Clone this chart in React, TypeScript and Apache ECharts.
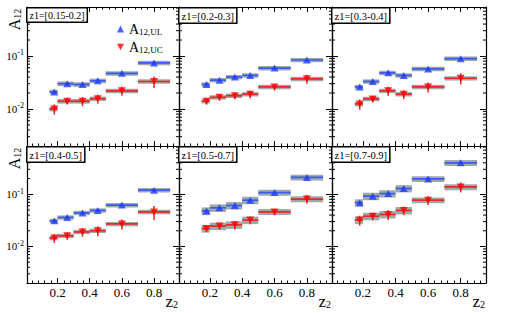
import React, { useEffect, useRef } from 'react';
import * as echarts from 'echarts';

const SERIF = '"Liberation Serif", "DejaVu Serif", serif';

// ---- data ----
const z1Labels = ['z1=[0.15-0.2]', 'z1=[0.2-0.3]', 'z1=[0.3-0.4]', 'z1=[0.4-0.5]', 'z1=[0.5-0.7]', 'z1=[0.7-0.9]'];
const z2Center = [0.18, 0.26, 0.355, 0.45, 0.6, 0.8];
const z2Low = [0.15, 0.2, 0.3, 0.4, 0.5, 0.7];
const z2High = [0.2, 0.3, 0.4, 0.5, 0.7, 0.9];
const xTickLabels = ['0.2', '0.4', '0.6', '0.8'];

// A12,UL values per z1 bin
const ulP1 = [0.021, 0.030, 0.029, 0.034, 0.047, 0.074];
const ulP2 = [0.029, 0.035, 0.040, 0.043, 0.059, 0.084];
const ulP3 = [0.026, 0.033, 0.048, 0.043, 0.057, 0.089];
const ulP4 = [0.031, 0.036, 0.044, 0.049, 0.062, 0.12];
const ulP5 = [0.048, 0.055, 0.061, 0.077, 0.108, 0.21];
const ulP6 = [0.069, 0.092, 0.103, 0.129, 0.197, 0.40];
// A12,UC values per z1 bin
const ucP1 = [0.010, 0.014, 0.014, 0.0156, 0.022, 0.033];
const ucP2 = [0.014, 0.0166, 0.0178, 0.019, 0.026, 0.037];
const ucP3 = [0.0124, 0.0155, 0.022, 0.019, 0.026, 0.038];
const ucP4 = [0.0145, 0.016, 0.019, 0.020, 0.027, 0.046];
const ucP5 = [0.022, 0.0246, 0.026, 0.032, 0.046, 0.081];
const ucP6 = [0.032, 0.038, 0.041, 0.049, 0.077, 0.138];
// statistical errors
const ulErrP1 = [0.0014, 0.0019, 0.0019, 0.0022, 0.0031, 0.0049];
const ulErrP2 = [0.0017, 0.0021, 0.0024, 0.0026, 0.0036, 0.0050];
const ulErrP3 = [0.0018, 0.0022, 0.0030, 0.0028, 0.0038, 0.0060];
const ulErrP4 = [0.0020, 0.0023, 0.0028, 0.0032, 0.0040, 0.0078];
const ulErrP5 = [0.0030, 0.0034, 0.0038, 0.0048, 0.0068, 0.0130];
const ulErrP6 = [0.0044, 0.0058, 0.0066, 0.0082, 0.0125, 0.0250];
const ucErrP1 = [0.0022, 0.0019, 0.0027, 0.0030, 0.0042, 0.0080];
const ucErrP2 = [0.0019, 0.0023, 0.0025, 0.0031, 0.0036, 0.0070];
const ucErrP3 = [0.0027, 0.0022, 0.0042, 0.0036, 0.0056, 0.0092];
const ucErrP4 = [0.0028, 0.0026, 0.0036, 0.0043, 0.0058, 0.0138];
const ucErrP5 = [0.0031, 0.0034, 0.0049, 0.0052, 0.0064, 0.0154];
const ucErrP6 = [0.0069, 0.0062, 0.0089, 0.0093, 0.0146, 0.0298];
// systematic errors (gray boxes)
const ulSysP1 = [0.0021, 0.0030, 0.0029, 0.0033, 0.0046, 0.0072];
const ulSysP2 = [0.0028, 0.0034, 0.0038, 0.0041, 0.0056, 0.0080];
const ulSysP3 = [0.0025, 0.0032, 0.0046, 0.0041, 0.0054, 0.0085];
const ulSysP4 = [0.0030, 0.0034, 0.0042, 0.0047, 0.0059, 0.0114];
const ulSysP5 = [0.0080, 0.0090, 0.0100, 0.0125, 0.0140, 0.0270];
const ulSysP6 = [0.0110, 0.0150, 0.0165, 0.0205, 0.0250, 0.0510];
const ucSysP1 = [0.0010, 0.0014, 0.0014, 0.0015, 0.0021, 0.0032];
const ucSysP2 = [0.0013, 0.0016, 0.0017, 0.0018, 0.0025, 0.0035];
const ucSysP3 = [0.0012, 0.0015, 0.0021, 0.0018, 0.0025, 0.0036];
const ucSysP4 = [0.0014, 0.0015, 0.0018, 0.0019, 0.0026, 0.0044];
const ucSysP5 = [0.0036, 0.0040, 0.0043, 0.0052, 0.0060, 0.0105];
const ucSysP6 = [0.0052, 0.0062, 0.0066, 0.0079, 0.0100, 0.0180];
// log-axis minor tick positions
const logMinor = [0.003, 0.004, 0.005, 0.006, 0.007, 0.008, 0.009, 0.02, 0.03, 0.04, 0.05, 0.06, 0.07, 0.08, 0.09, 0.2, 0.3, 0.4, 0.5, 0.6, 0.7, 0.8];

const ulAll = [ulP1, ulP2, ulP3, ulP4, ulP5, ulP6];
const ucAll = [ucP1, ucP2, ucP3, ucP4, ucP5, ucP6];
const ulErrAll = [ulErrP1, ulErrP2, ulErrP3, ulErrP4, ulErrP5, ulErrP6];
const ucErrAll = [ucErrP1, ucErrP2, ucErrP3, ucErrP4, ucErrP5, ucErrP6];
const ulSysAll = [ulSysP1, ulSysP2, ulSysP3, ulSysP4, ulSysP5, ulSysP6];
const ucSysAll = [ucSysP1, ucSysP2, ucSysP3, ucSysP4, ucSysP5, ucSysP6];

// ---- layout ----
const gridLeft = [27, 179, 332];
const gridWidth = [152, 153, 154];
const gridTop = [7, 146];
const gridHeight = [139, 137];
const X_MIN = 0.01;
const X_MAX = 0.955;
const Y_MIN = 0.002;
const Y_MAX = 0.84;

const BLUE_M = '#1f3cff';
const BLUE_L = '#3a5cf2';
const RED_M = '#ff0000';
const RED_L = '#e42a24';
const GRAY = 'rgba(128,140,138,0.75)';
const DOWN_TRI = 'path://M0,0L10,0L5,9Z';

function binRender(color: string) {
  return (params: any, api: any) => {
    const lo = api.value(0), hi = api.value(1), xc = api.value(2), y = api.value(3), e = api.value(4);
    const a = api.coord([lo, y]);
    const b = api.coord([hi, y]);
    const t = api.coord([xc, y + e]);
    const d = api.coord([xc, y - e]);
    return {
      type: 'group',
      children: [
        { type: 'line', shape: { x1: a[0], y1: a[1], x2: b[0], y2: b[1] }, style: { stroke: color, lineWidth: 1.7 } },
        { type: 'line', shape: { x1: t[0], y1: t[1], x2: d[0], y2: d[1] }, style: { stroke: color, lineWidth: 1.5 } },
      ],
    };
  };
}

function sysRender(params: any, api: any) {
  const lo = api.value(0), hi = api.value(1), y = api.value(2), s = api.value(3);
  const p1 = api.coord([lo, y + s]);
  const p2 = api.coord([hi, y - s]);
  return {
    type: 'rect',
    shape: { x: p1[0], y: p1[1], width: p2[0] - p1[0], height: Math.max(p2[1] - p1[1], 3.5) },
    style: { fill: GRAY },
  };
}

function minorRender(params: any, api: any) {
  const cs = params.coordSys;
  const y = api.coord([api.value(0), api.value(1)])[1];
  return {
    type: 'group',
    children: [
      { type: 'line', shape: { x1: cs.x, y1: y, x2: cs.x + 3, y2: y }, style: { stroke: '#000', lineWidth: 1 } },
      { type: 'line', shape: { x1: cs.x + cs.width - 3, y1: y, x2: cs.x + cs.width, y2: y }, style: { stroke: '#000', lineWidth: 1 } },
    ],
  };
}

function buildOption() {
  const grids: any[] = [];
  const xAxes: any[] = [];
  const yAxes: any[] = [];
  const series: any[] = [];
  const graphics: any[] = [];

  for (let p = 0; p < 6; p++) {
    const col = p % 3;
    const row = Math.floor(p / 3);
    grids.push({ left: gridLeft[col], top: gridTop[row], width: gridWidth[col], height: gridHeight[row] });
    const common = {
      type: 'value',
      gridIndex: p,
      min: X_MIN,
      max: X_MAX,
      axisLine: { show: true, onZero: false, lineStyle: { color: '#000', width: 1.2 } },
      axisTick: { show: true, inside: true, length: 5, lineStyle: { color: '#000', width: 1 } },
      minorTick: { show: true, splitNumber: 5, length: 2.5, lineStyle: { color: '#000', width: 1 } },
      splitLine: { show: false },
      minorSplitLine: { show: false },
    };
    xAxes.push({
      ...common,
      position: 'bottom',
      axisLabel: {
        show: row === 1,
        margin: 3,
        fontSize: 13,
        fontFamily: SERIF,
        color: '#000',
        showMinLabel: false,
        showMaxLabel: false,
        formatter: (v: number) => {
          const s = v.toFixed(1);
          return xTickLabels.indexOf(s) >= 0 && Math.abs(v - parseFloat(s)) < 1e-6 ? s : '';
        },
      },
    });
    xAxes.push({ ...common, position: 'top', axisLabel: { show: false } });
    const ycommon = {
      type: 'log',
      logBase: 10,
      gridIndex: p,
      min: Y_MIN,
      max: Y_MAX,
      axisLine: { show: true, lineStyle: { color: '#000', width: 1.2 } },
      axisTick: { show: true, inside: true, length: 6, lineStyle: { color: '#000', width: 1 } },
      splitLine: { show: false },
    };
    yAxes.push({
      ...ycommon,
      position: 'left',
      axisLabel: {
        show: col === 0,
        margin: 3,
        color: '#000',
        showMinLabel: false,
        showMaxLabel: false,
        formatter: (v: number) => {
          const lg = Math.log10(v);
          const e = Math.round(lg);
          if (Math.abs(lg - e) > 0.01) return '';
          return '{b|10}{s|' + e + '}';
        },
        rich: {
          b: { fontSize: 11, fontFamily: SERIF, color: '#000', lineHeight: 14 },
          s: { fontSize: 8, fontFamily: SERIF, color: '#000', lineHeight: 8, verticalAlign: 'top' },
        },
      },
    });
    yAxes.push({ ...ycommon, position: 'right', axisLabel: { show: false } });

    const xi = 2 * p;
    const ul = ulAll[p], uc = ucAll[p];
    series.push({
      type: 'custom', name: 'sysUL' + p, xAxisIndex: xi, yAxisIndex: xi, z: 1,
      renderItem: sysRender, encode: { x: [0, 1], y: [2] },
      data: ul.map((v, i) => [z2Low[i], z2High[i], v, ulSysAll[p][i]]),
    });
    series.push({
      type: 'custom', name: 'sysUC' + p, xAxisIndex: xi, yAxisIndex: xi, z: 1,
      renderItem: sysRender, encode: { x: [0, 1], y: [2] },
      data: uc.map((v, i) => [z2Low[i], z2High[i], v, ucSysAll[p][i]]),
    });
    series.push({
      type: 'custom', name: 'binUL' + p, xAxisIndex: xi, yAxisIndex: xi, z: 2,
      renderItem: binRender(BLUE_L), encode: { x: [0, 1, 2], y: [3] },
      data: ul.map((v, i) => [z2Low[i], z2High[i], z2Center[i], v, ulErrAll[p][i]]),
    });
    series.push({
      type: 'custom', name: 'binUC' + p, xAxisIndex: xi, yAxisIndex: xi, z: 2,
      renderItem: binRender(RED_L), encode: { x: [0, 1, 2], y: [3] },
      data: uc.map((v, i) => [z2Low[i], z2High[i], z2Center[i], v, ucErrAll[p][i]]),
    });
    series.push({
      type: 'scatter', name: 'UL', xAxisIndex: xi, yAxisIndex: xi, z: 3,
      symbol: 'triangle', symbolSize: [8, 7], itemStyle: { color: BLUE_M },
      data: ul.map((v, i) => [z2Center[i], v]),
    });
    series.push({
      type: 'scatter', name: 'UC', xAxisIndex: xi, yAxisIndex: xi, z: 3,
      symbol: DOWN_TRI, symbolSize: [8, 7], itemStyle: { color: RED_M },
      data: uc.map((v, i) => [z2Center[i], v]),
    });
    series.push({
      type: 'custom', name: 'minor' + p, xAxisIndex: xi, yAxisIndex: xi, z: 4,
      renderItem: minorRender, encode: { x: [0], y: [1] }, silent: true,
      data: logMinor.map((v) => [X_MIN, v]),
    });

    // panel label box
    graphics.push({
      type: 'text',
      x: gridLeft[col] + 0.5,
      y: gridTop[row] + 1.5,
      z: 10,
      style: {
        text: z1Labels[p],
        font: (p === 0 ? 10 : 10.5) + 'px ' + SERIF,
        fill: '#000',
        backgroundColor: '#fff',
        borderColor: '#000',
        borderWidth: 1.5,
        padding: [2, 2, 1, 2],
      },
    });
    if (row === 1) {
      graphics.push({
        type: 'text',
        x: gridLeft[col] + gridWidth[col] - 1,
        y: 301,
        style: {
          text: '{a|z}{s|2}',
          align: 'right',
          verticalAlign: 'middle',
          rich: {
            a: { fontSize: 17, fontFamily: SERIF, fill: '#000', lineHeight: 16 },
            s: { fontSize: 10, fontFamily: SERIF, fill: '#000', lineHeight: 10, verticalAlign: 'bottom' },
          },
        },
      });
    }
  }

  for (let r = 0; r < 2; r++) {
    graphics.push({
      type: 'text',
      x: 14,
      y: gridTop[r] + 12.5,
      rotation: Math.PI / 2,
      style: {
        text: '{a|A}{s|12}',
        align: 'center',
        verticalAlign: 'middle',
        rich: {
          a: { fontSize: 16, fontFamily: SERIF, fill: '#000', lineHeight: 16 },
          s: { fontSize: 10, fontFamily: SERIF, fill: '#000', lineHeight: 10, verticalAlign: 'bottom' },
        },
      },
    });
  }

  return {
    animation: false,
    backgroundColor: '#fff',
    grid: grids,
    xAxis: xAxes,
    yAxis: yAxes,
    series,
    graphic: graphics,
    legend: {
      data: ['UL', 'UC'],
      orient: 'vertical',
      left: 112,
      top: 17,
      itemWidth: 7,
      itemHeight: 7,
      itemGap: 4,
      selectedMode: false,
      formatter: (name: string) => '{a|A}{s|12,' + name + '}',
      textStyle: {
        color: '#000',
        rich: {
          a: { fontSize: 14, fontFamily: SERIF, color: '#000', lineHeight: 14 },
          s: { fontSize: 9, fontFamily: SERIF, color: '#000', lineHeight: 9, verticalAlign: 'bottom' },
        },
      },
    },
  };
}

export default function App() {
  const ref = useRef<HTMLDivElement>(null);
  useEffect(() => {
    document.body.style.margin = '0';
    if (!ref.current) return;
    const chart = echarts.init(ref.current, null, { renderer: 'svg' });
    chart.setOption(buildOption() as any);
    return () => chart.dispose();
  }, []);
  return <div ref={ref} style={{ width: 510, height: 313 }} />;
}
